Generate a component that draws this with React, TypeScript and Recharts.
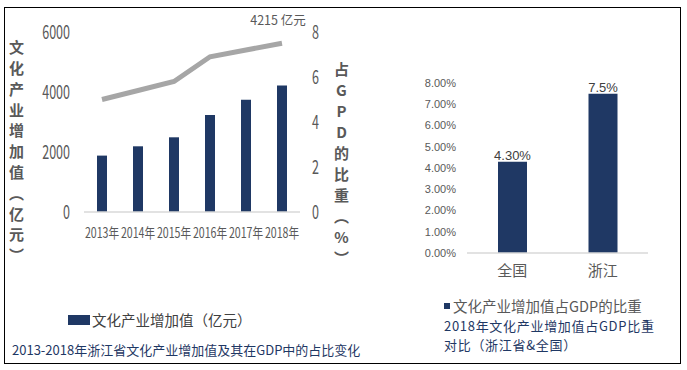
import React from "react";
import {
  ComposedChart,
  BarChart,
  Bar,
  Line,
  XAxis,
  YAxis,
  LabelList,
} from "recharts";

// left chart: Zhejiang cultural industry value added 2013-2018
const years = ["2013年", "2014年", "2015年", "2016年", "2017年", "2018年"];
const addedValue = [1880, 2190, 2490, 3230, 3745, 4215]; // 亿元
const gdpShare = [5.0, 5.4, 5.8, 6.9, 7.2, 7.5]; // %
const valueTicks = [0, 2000, 4000, 6000];
const shareTicks = [0, 2, 4, 6, 8];

// right chart: 2018 share comparison
const regions = ["全国", "浙江"];
const regionShare = [0.043, 0.075];
const regionLabels = ["4.30%", "7.5%"];
const pctTicks = [0, 0.01, 0.02, 0.03, 0.04, 0.05, 0.06, 0.07, 0.08];

const NAVY = "#1f3864";
const GREY_TEXT = "#595959";
const CJK = '"Noto Sans CJK SC", "Noto Sans", sans-serif';

const leftData = years.map((y, i) => ({
  year: y,
  value: addedValue[i],
  share: gdpShare[i],
}));

const rightData = regions.map((r, i) => ({
  region: r,
  share: regionShare[i],
  label: regionLabels[i],
}));

const lastIdx = years.length - 1;

// condensed tick text (the source uses a narrow font)
const narrowTick =
  (anchor: string, size: number, sx: number, dy: string) => (p: any) =>
    (
      <g transform={`translate(${p.x},${p.y})`}>
        <text
          transform={`scale(${sx},1)`}
          textAnchor={anchor}
          dy={dy}
          fontSize={size}
          fontFamily={CJK}
          fill={GREY_TEXT}
        >
          {p.payload.value}
        </text>
      </g>
    );

function TopValueLabel(props: any) {
  const { x, y, index } = props;
  if (index !== lastIdx) return null;
  return (
    <text
      x={x - 4}
      y={y - 18}
      textAnchor="middle"
      fontSize={12.5}
      fontFamily={CJK}
      fill={GREY_TEXT}
    >
      {addedValue[lastIdx] + " 亿元"}
    </text>
  );
}

const verticalTitle: React.CSSProperties = {
  position: "absolute",
  writingMode: "vertical-rl",
  fontFamily: CJK,
  fontSize: 15,
  fontWeight: 700,
  color: GREY_TEXT,
  lineHeight: 1,
};

const rightCaption: React.CSSProperties = {
  position: "absolute",
  left: 444,
  fontFamily: CJK,
  fontSize: 13,
  letterSpacing: 0.7,
  lineHeight: "17px",
  color: NAVY,
  whiteSpace: "nowrap",
};

export default function App() {
  return (
    <div
      style={{
        position: "absolute",
        left: 0,
        top: 0,
        width: 687,
        height: 370,
        background: "#fff",
        overflow: "hidden",
      }}
    >
      <div
        style={{
          position: "absolute",
          left: 4,
          top: 7,
          width: 677,
          height: 357,
          border: "1.5px solid #000",
          boxSizing: "border-box",
        }}
      />

      <div style={{ position: "absolute", left: 0, top: 0 }}>
        <ComposedChart
          width={360}
          height={260}
          data={leftData}
          margin={{ top: 32, right: 0, bottom: 0, left: 0 }}
        >
          <XAxis
            dataKey="year"
            height={48}
            axisLine={{ stroke: "#d9d9d9", strokeWidth: 1.5 }}
            tickLine={false}
            tickMargin={12}
            interval={0}
            tick={narrowTick("middle", 14, 0.76, "0.6em")}
          />
          <YAxis
            yAxisId="left"
            width={84}
            domain={[0, 6000]}
            ticks={valueTicks}
            axisLine={false}
            tickLine={false}
            tickMargin={8}
            tick={narrowTick("end", 19, 0.66, "0.36em")}
          />
          <YAxis
            yAxisId="right"
            orientation="right"
            width={60}
            domain={[0, 8]}
            ticks={shareTicks}
            axisLine={false}
            tickLine={false}
            tickMargin={6}
            tick={narrowTick("start", 19, 0.66, "0.36em")}
          />
          <Bar
            yAxisId="left"
            dataKey="value"
            fill={NAVY}
            barSize={10}
            isAnimationActive={false}
          />
          <Line
            yAxisId="right"
            dataKey="share"
            type="linear"
            stroke="#a6a6a6"
            strokeWidth={5}
            dot={false}
            isAnimationActive={false}
          >
            <LabelList dataKey="share" content={TopValueLabel} />
          </Line>
        </ComposedChart>
      </div>

      <div style={{ ...verticalTitle, left: 9, top: 40, letterSpacing: 5.8 }}>
        文化产业增加值（亿元）
      </div>
      <div
        style={{
          ...verticalTitle,
          left: 334,
          top: 62,
          letterSpacing: 6,
          textOrientation: "upright",
        }}
      >
        占GPD的比重（%）
      </div>

      <div
        style={{
          position: "absolute",
          left: 68,
          top: 315,
          width: 22,
          height: 10,
          background: NAVY,
        }}
      />
      <div
        style={{
          position: "absolute",
          left: 92,
          top: 310,
          fontFamily: CJK,
          fontSize: 14.5,
          lineHeight: "20px",
          color: "#404040",
          whiteSpace: "nowrap",
        }}
      >
        文化产业增加值（亿元）
      </div>
      <div
        style={{
          position: "absolute",
          left: 12,
          top: 341,
          fontFamily: CJK,
          fontSize: 13,
          lineHeight: "18px",
          color: NAVY,
          whiteSpace: "nowrap",
        }}
      >
        2013-2018年浙江省文化产业增加值及其在GDP中的占比变化
      </div>

      <div style={{ position: "absolute", left: 380, top: 40 }}>
        <BarChart
          width={300}
          height={250}
          data={rightData}
          margin={{ top: 43, right: 32, bottom: 0, left: 0 }}
        >
          <XAxis
            dataKey="region"
            height={37}
            axisLine={{ stroke: "#d9d9d9", strokeWidth: 1.5 }}
            tickLine={false}
            tickMargin={6}
            tick={{ fontSize: 15, fontFamily: CJK, fill: GREY_TEXT }}
          />
          <YAxis
            width={87}
            domain={[0, 0.08]}
            ticks={pctTicks}
            tickFormatter={(v: number) => (v * 100).toFixed(2) + "%"}
            axisLine={false}
            tickLine={false}
            tickMargin={5}
            tick={{ fontSize: 11, fontFamily: '"Liberation Sans", sans-serif', fill: GREY_TEXT }}
          />
          <Bar dataKey="share" fill={NAVY} barSize={29} isAnimationActive={false}>
            <LabelList
              dataKey="label"
              position="top"
              offset={2}
              fill="#404040"
              fontSize={13}
              fontFamily='"Liberation Sans", sans-serif'
            />
          </Bar>
        </BarChart>
      </div>

      <div
        style={{
          position: "absolute",
          left: 444,
          top: 303,
          width: 6,
          height: 6,
          background: NAVY,
        }}
      />
      <div
        style={{
          position: "absolute",
          left: 453,
          top: 296,
          fontFamily: CJK,
          fontSize: 14.5,
          lineHeight: "19px",
          color: GREY_TEXT,
          whiteSpace: "nowrap",
        }}
      >
        文化产业增加值占GDP的比重
      </div>
      <div style={{ ...rightCaption, top: 317 }}>
        2018年文化产业增加值占GDP比重
      </div>
      <div style={{ ...rightCaption, top: 336 }}>对比（浙江省&amp;全国）</div>
    </div>
  );
}
